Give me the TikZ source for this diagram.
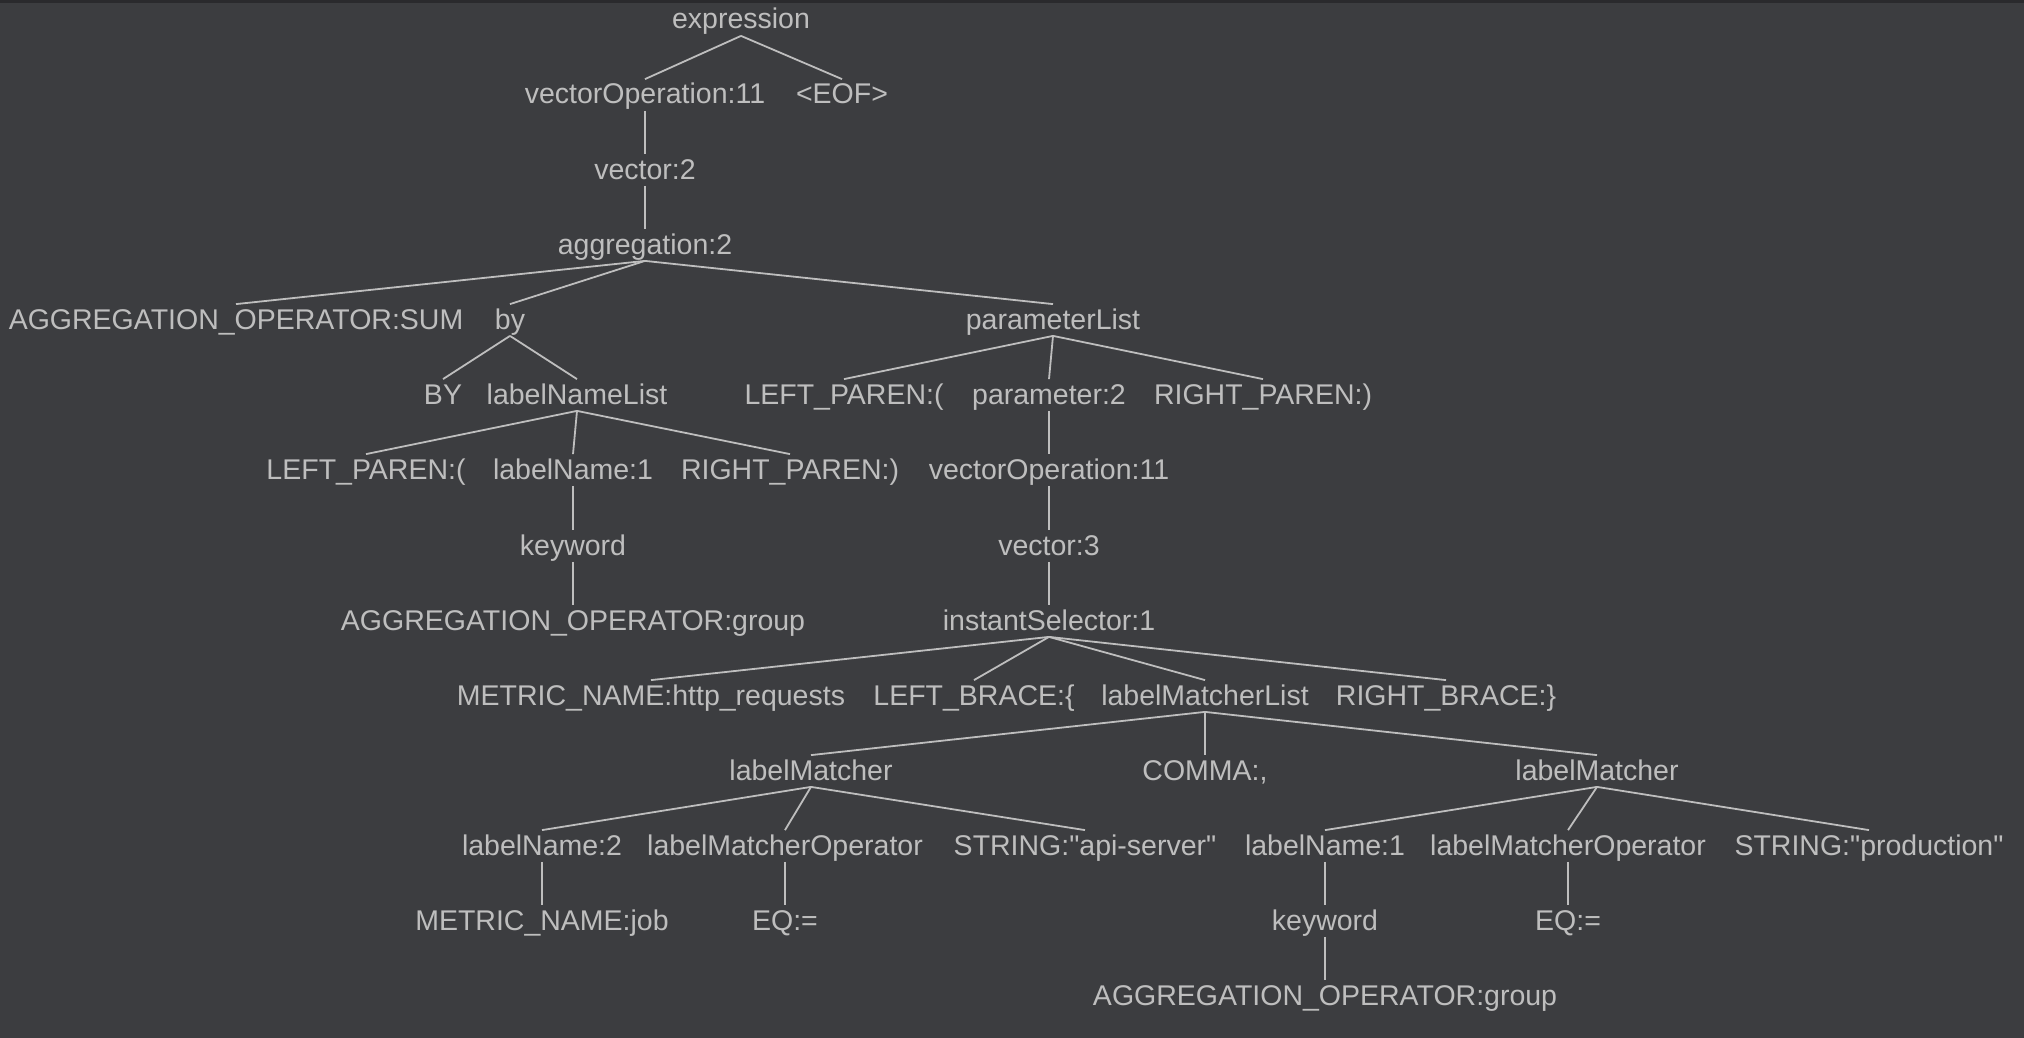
\documentclass[tikz,border=0pt]{standalone}
\usepackage{fontspec}
\setmainfont{Liberation Sans}
\definecolor{bgdark}{HTML}{3C3D40}
\definecolor{bgstrip}{HTML}{2A2A2D}
\definecolor{treegray}{HTML}{BEBEBE}
\begin{document}
\begin{tikzpicture}[x=0.5pt,y=-0.5pt,
    tok/.style={anchor=base, inner sep=0pt, text=treegray, text height=12.25pt, text depth=3.25pt,
        font=\fontsize{14.25pt}{17pt}\selectfont},
    edge/.style={draw=treegray, line width=0.9pt}]
    % canvas, 1 unit = 1 px of the screenshot
    \fill[bgdark] (0,0) rectangle (2024,1038);
    \fill[bgstrip] (0,0) rectangle (2024,3);
    \useasboundingbox (0,0) rectangle (2024,1038);
    % row 0-3
    \node[tok] (expr) at (741,29) {expression};
    \node[tok] (vecop) at (645,104) {vectorOperation:11};
    \node[tok] (eof) at (842,104) {<EOF>};
    \node[tok] (vec) at (645,179) {vector:2};
    \node[tok] (agg) at (645,254) {aggregation:2};
    % row 4-5
    \node[tok] (aggop) at (236,329) {AGGREGATION\_OPERATOR:SUM};
    \node[tok] (by) at (510,329) {by};
    \node[tok] (plist) at (1053,329) {parameterList};
    \node[tok] (bytok) at (443,404) {BY};
    \node[tok] (lnlist) at (577,404) {labelNameList};
    \node[tok] (lparen) at (844,404) {LEFT\_PAREN:(};
    \node[tok] (param) at (1049,404) {parameter:2};
    \node[tok] (rparen) at (1263,404) {RIGHT\_PAREN:)};
    % row 6-8
    \node[tok] (lparenb) at (366,479) {LEFT\_PAREN:(};
    \node[tok] (lname) at (573,479) {labelName:1};
    \node[tok] (rparenb) at (790,479) {RIGHT\_PAREN:)};
    \node[tok] (vecopb) at (1049,479) {vectorOperation:11};
    \node[tok] (kw) at (573,555) {keyword};
    \node[tok] (vecb) at (1049,555) {vector:3};
    \node[tok] (aggopb) at (573,630) {AGGREGATION\_OPERATOR:group};
    \node[tok] (isel) at (1049,630) {instantSelector:1};
    % row 9-10
    \node[tok] (mname) at (651,705) {METRIC\_NAME:http\_requests};
    \node[tok] (lbrace) at (974,705) {LEFT\_BRACE:\{};
    \node[tok] (lmlist) at (1205,705) {labelMatcherList};
    \node[tok] (rbrace) at (1446,705) {RIGHT\_BRACE:\}};
    \node[tok] (lmA) at (811,780) {labelMatcher};
    \node[tok] (comma) at (1205,780) {COMMA:,};
    \node[tok] (lmB) at (1597,780) {labelMatcher};
    % row 11-13
    \node[tok] (lnameA) at (542,855) {labelName:2};
    \node[tok] (lmopA) at (785,855) {labelMatcherOperator};
    \node[tok] (strA) at (1085,855) {STRING:\textquotedbl api-server\textquotedbl};
    \node[tok] (lnameB) at (1325,855) {labelName:1};
    \node[tok] (lmopB) at (1568,855) {labelMatcherOperator};
    \node[tok] (strB) at (1869,855) {STRING:\textquotedbl production\textquotedbl};
    \node[tok] (mjob) at (542,930) {METRIC\_NAME:job};
    \node[tok] (eqA) at (785,930) {EQ:=};
    \node[tok] (kwB) at (1325,930) {keyword};
    \node[tok] (eqB) at (1568,930) {EQ:=};
    \node[tok] (aggopc) at (1325,1005) {AGGREGATION\_OPERATOR:group};
    % edges, parent to child
    \foreach \p/\c in {expr/vecop, expr/eof, vecop/vec, vec/agg,
        agg/aggop, agg/by, agg/plist, by/bytok, by/lnlist,
        plist/lparen, plist/param, plist/rparen,
        lnlist/lparenb, lnlist/lname, lnlist/rparenb, lname/kw, kw/aggopb,
        param/vecopb, vecopb/vecb, vecb/isel,
        isel/mname, isel/lbrace, isel/lmlist, isel/rbrace,
        lmlist/lmA, lmlist/comma, lmlist/lmB,
        lmA/lnameA, lmA/lmopA, lmA/strA, lnameA/mjob, lmopA/eqA,
        lmB/lnameB, lmB/lmopB, lmB/strB, lnameB/kwB, lmopB/eqB, kwB/aggopc}
        \draw[edge] (\p.south) -- (\c.north);
\end{tikzpicture}
\end{document}
